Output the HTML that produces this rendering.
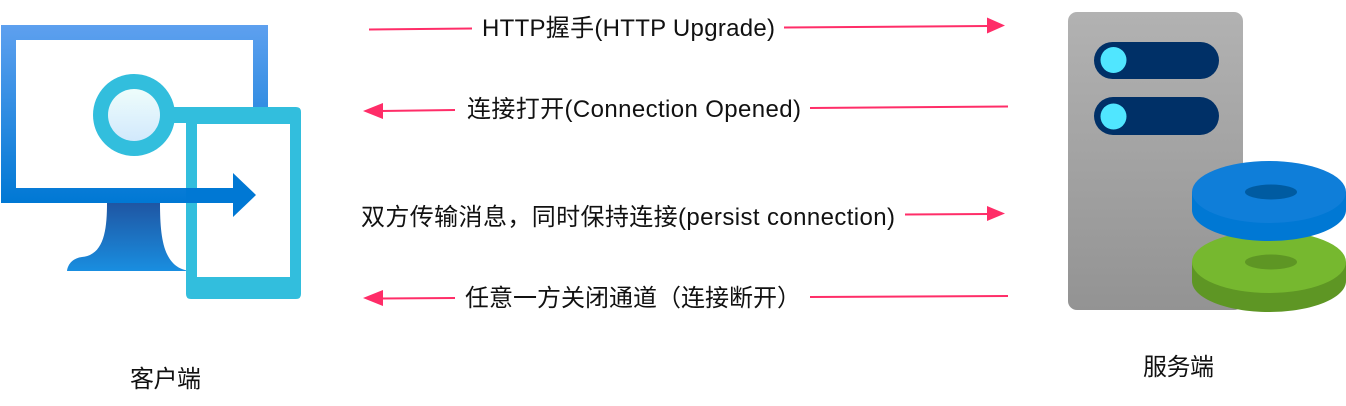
<!DOCTYPE html>
<html><head><meta charset="utf-8"><style>
html,body{margin:0;padding:0;background:#fff}
svg{display:block}
text{font-family:"Liberation Sans","Noto Sans CJK SC",sans-serif;font-size:24px;fill:#111}
</style></head><body>
<svg width="1346" height="406" viewBox="0 0 1346 406" xmlns="http://www.w3.org/2000/svg">
<defs>
<linearGradient id="mon" x1="0" y1="0" x2="0" y2="1"><stop offset="0" stop-color="#5ea0ef"/><stop offset="1" stop-color="#0078d4"/></linearGradient>
<linearGradient id="st" x1="0" y1="0" x2="0" y2="1"><stop offset="0" stop-color="#1f56a3"/><stop offset="1" stop-color="#198ee0"/></linearGradient>
<linearGradient id="glass" x1="0" y1="0" x2="0" y2="1"><stop offset="0" stop-color="#eefdfb"/><stop offset="1" stop-color="#d2e9fc"/></linearGradient>
<linearGradient id="srv" x1="0" y1="0" x2="0" y2="1"><stop offset="0" stop-color="#b2b2b2"/><stop offset="1" stop-color="#939393"/></linearGradient>
</defs>
<path d="M107 203H160C160 240 164 268 190 271H67C68 263 74 258 82 257C104 255 107 230 107 203Z" fill="url(#st)"/>
<path fill-rule="evenodd" d="M1 25H268V203H1ZM16 40V188H253V40Z" fill="url(#mon)"/>
<rect x="197" y="124" width="93" height="153" fill="#fff"/>
<path fill-rule="evenodd" d="M170 107H296Q301 107 301 112V294Q301 299 296 299H191Q186 299 186 294V123H170ZM197 124V277H290V124Z" fill="#32bedd"/>
<circle cx="134" cy="115" r="41" fill="#32bedd"/>
<circle cx="134" cy="115" r="26" fill="url(#glass)"/>
<path d="M186 188H233V173L256 195L233 217V203H186Z" fill="#0078d4"/>
<rect x="1068" y="12" width="175" height="298" rx="9" fill="url(#srv)"/>
<rect x="1094" y="42" width="125" height="37" rx="18.5" fill="#003067"/>
<rect x="1094" y="97" width="125" height="38" rx="19" fill="#003067"/>
<circle cx="1113.500" cy="60" r="13" fill="#50e6ff"/>
<circle cx="1113.500" cy="116.500" r="13" fill="#50e6ff"/>
<path d="M1192 262V281C1192 298 1226 312 1269 312S1346 298 1346 281V262Z" fill="#5e9624"/>
<ellipse cx="1269" cy="262" rx="77" ry="31" fill="#76b82f"/>
<ellipse cx="1271" cy="262" rx="26" ry="7.500" fill="#5e9624"/>
<path d="M1192 192V210C1192 227 1226 241 1269 241S1346 227 1346 210V192Z" fill="#0078d4"/>
<ellipse cx="1269" cy="192" rx="77" ry="31" fill="#0f7ed9"/>
<ellipse cx="1271" cy="192" rx="26" ry="7.500" fill="#005ba1"/>
<g stroke="#ff2d68" stroke-width="2" fill="none">
<path d="M369 29.500L472 28.500"/><path d="M784 27.500L988 26"/>
<path d="M381 111L455 110"/><path d="M810 108L1008 106.500"/>
<path d="M905 214.500L988 214"/>
<path d="M381 298.500L455 298"/><path d="M810 297L1008 296"/>
</g>
<g fill="#ff2d68">
<path d="M987 17.500L1005 25.500L987 33.500Z"/>
<path d="M383 103L363 111L383 119Z"/>
<path d="M987 206L1005 213.500L987 221Z"/>
<path d="M383 290L363 298L383 306Z"/>
</g>
<text x="482" y="36" textLength="293" lengthAdjust="spacing">HTTP握手(HTTP Upgrade)</text>
<text x="467" y="117" textLength="334" lengthAdjust="spacing">连接打开(Connection Opened)</text>
<text x="361" y="225" textLength="534" lengthAdjust="spacing">双方传输消息，同时保持连接(persist connection)</text>
<text x="465" y="306" textLength="336" lengthAdjust="spacing">任意一方关闭通道（连接断开）</text>
<text x="130" y="387" textLength="71" lengthAdjust="spacing">客户端</text>
<text x="1143" y="375" textLength="71" lengthAdjust="spacing">服务端</text>
</svg>
</body></html>
